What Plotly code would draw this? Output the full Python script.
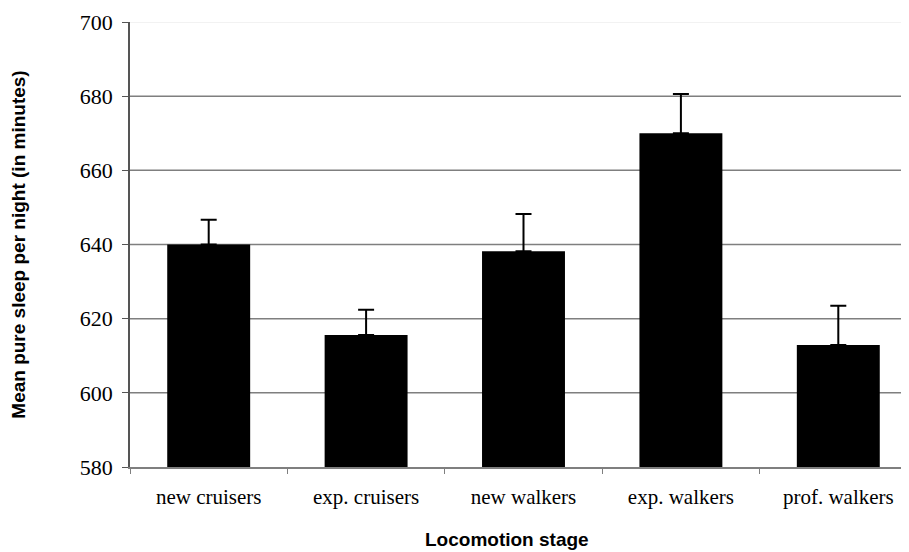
import plotly.graph_objects as go

# Mean pure sleep per night by locomotion stage
stages = ['new cruisers', 'exp. cruisers', 'new walkers', 'exp. walkers', 'prof. walkers']
mean_sleep = [640.0, 615.6, 638.2, 670.0, 612.9]
sleep_err = [6.7, 6.8, 10.0, 10.6, 10.6]
y_ticks = [580, 600, 620, 640, 660, 680, 700]

serif = 'Liberation Serif, Times New Roman, serif'
sans = 'Liberation Sans, Arial, sans-serif'

fig = go.Figure()
fig.add_trace(go.Bar(
    x=stages,
    y=mean_sleep,
    marker=dict(color='black', line=dict(color='black', width=0)),
    error_y=dict(type='data', array=sleep_err, arrayminus=[0] * len(sleep_err),
                 symmetric=False, color='black', thickness=2, width=8),
))

# gridlines (top one is faint, like the original)
for v in y_ticks[1:]:
    fig.add_shape(type='line', xref='paper', x0=0, x1=1, yref='y', y0=v, y1=v,
                  line=dict(color='#eeeeee' if v == y_ticks[-1] else '#7f7f7f', width=1.5),
                  layer='below')

# x title sits a little left of the plot centre in the original
fig.add_annotation(text='Locomotion stage', xref='paper', yref='paper', x=0.479, y=-0.164,
                   xanchor='center', yanchor='middle', showarrow=False,
                   font=dict(family=sans, size=19, color='black', weight='bold'))

# page body has an 8px margin, so margins are offset a bit
fig.update_layout(
    width=909, height=552,
    margin=dict(l=122, r=0, t=14, b=93),
    plot_bgcolor='white', paper_bgcolor='white',
    bargap=0.473,
    showlegend=False,
    xaxis=dict(
        range=[-0.5, 4.5], automargin=False,
        showline=True, linecolor='#7f7f7f', linewidth=1.5,
        ticks='outside', tickson='boundaries', ticklen=5, tickcolor='#7f7f7f',
        ticklabelstandoff=10,
        tickfont=dict(family=serif, size=21, color='black'),
    ),
    yaxis=dict(
        range=[580, 700], tickvals=y_ticks, automargin=False,
        showgrid=False, zeroline=False,
        showline=True, linecolor='#555555', linewidth=1.5,
        ticks='outside', ticklen=6, tickcolor='#555555',
        ticklabelstandoff=5,
        tickfont=dict(family=serif, size=22, color='black'),
        title=dict(text='Mean pure sleep per night (in minutes)',
                   font=dict(family=sans, size=19, color='black', weight='bold'), standoff=50),
    ),
)

fig.write_html('out.html')
